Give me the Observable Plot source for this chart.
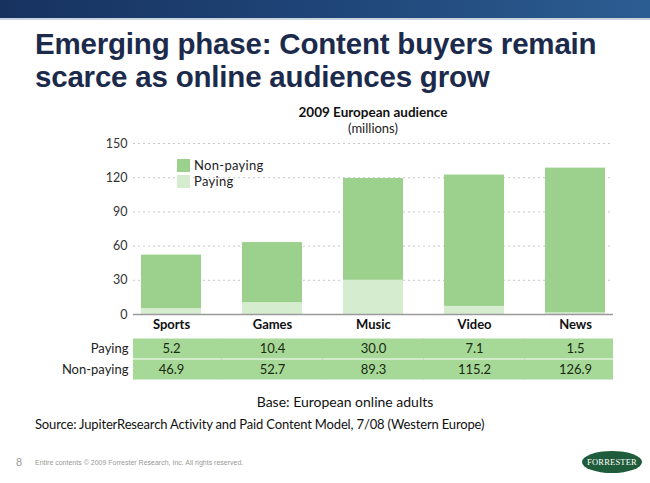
<!DOCTYPE html>
<html><head><meta charset="utf-8">
<script src="https://cdn.jsdelivr.net/npm/d3@7"></script>
<script src="https://cdn.jsdelivr.net/npm/@observablehq/plot@0.6"></script>
<style>
body{margin:0;background:#fff;}
#page{position:relative;width:650px;height:483px;overflow:hidden;background:#fff;font-family:Lato,"Open Sans",sans-serif;}
.abs{position:absolute;white-space:nowrap;}
#banner{left:0;top:0;width:650px;height:18px;background:linear-gradient(90deg,#17325f 0%,#1f4578 50%,#2c5d92 100%);}
#bannerline{left:0;top:18px;width:650px;height:2px;background:#c9d3e0;}
#title{left:35px;top:27px;font-family:"Liberation Sans",Arial,sans-serif;font-weight:bold;font-size:29.5px;line-height:33px;color:#1c2a4c;letter-spacing:-0.2px;}
#ctitle{left:133px;width:480px;top:104px;text-align:center;font-weight:bold;font-size:13.5px;color:#111;}
#cunit{left:133px;width:480px;top:120px;text-align:center;font-size:13px;color:#222;}
.sw{position:absolute;width:13px;height:13px;}
.lt{position:absolute;font-size:13px;line-height:15px;color:#222;letter-spacing:0.3px;}
#base{left:133px;width:424px;top:393px;text-align:center;font-size:14px;color:#111;}
#source{left:35px;top:416px;font-size:13px;letter-spacing:-0.15px;color:#111;}
#pnum{left:16px;top:456px;font-size:11px;color:#999;font-family:"Liberation Sans",Arial,sans-serif;}
#foot{left:35px;top:459px;font-size:7px;color:#999;font-family:"Liberation Sans",Arial,sans-serif;}
#logo{left:582px;top:451px;width:60px;height:22px;border-radius:50%;background:#1f5c3b;color:#fff;font-family:"Liberation Serif",serif;font-size:8.5px;line-height:22px;text-align:center;letter-spacing:0.2px;}
</style></head>
<body>
<div id="page">
  <div id="banner" class="abs"></div>
  <div id="bannerline" class="abs"></div>
  <div id="title" class="abs">Emerging phase: Content buyers remain<br>scarce as online audiences grow</div>
  <div id="ctitle" class="abs">2009 European audience</div>
  <div id="cunit" class="abs">(millions)</div>
  <div id="chart" class="abs" style="left:0;top:100px;"></div>
  <div id="legend" class="abs" style="left:0;top:0;"></div>
  <div id="table" class="abs" style="left:0;top:338px;"></div>
  <div id="base" class="abs">Base: European online adults</div>
  <div id="source" class="abs">Source: JupiterResearch Activity and Paid Content Model, 7/08 (Western Europe)</div>
  <div id="pnum" class="abs">8</div>
  <div id="foot" class="abs">Entire contents © 2009 Forrester Research, Inc. All rights reserved.</div>
  <div id="logo" class="abs">FORRESTER</div>
</div>
<script>
const categories = ["Sports", "Games", "Music", "Video", "News"];
const paying = [5.2, 10.4, 30.0, 7.1, 1.5];
const nonPaying = [46.9, 52.7, 89.3, 115.2, 126.9];
const seriesNames = ["Paying", "Non-paying"];
const yTicks = [0, 30, 60, 90, 120, 150];

const colors = {"Paying": "#d5ecce", "Non-paying": "#9bd08d"};

const rows = [];
categories.forEach((c, i) => {
  rows.push({category: c, series: "Paying", value: paying[i]});
  rows.push({category: c, series: "Non-paying", value: nonPaying[i]});
});

const xScale = {domain: categories, paddingInner: 0.41, paddingOuter: 0.064, axis: null};

const chart = Plot.plot({
  width: 650, height: 236,
  marginLeft: 133, marginRight: 37, marginTop: 43, marginBottom: 22,
  style: {fontFamily: "Lato, 'Open Sans', sans-serif", background: "transparent"},
  x: {...xScale},
  y: {domain: [0, 150], ticks: yTicks, label: null},
  color: {domain: seriesNames, range: seriesNames.map(s => colors[s])},
  marks: [
    Plot.ruleY(yTicks.filter(t => t > 0), {stroke: "#c8c8c8", strokeDasharray: "2,3", strokeWidth: 1}),
    Plot.barY(rows, {x: "category", y: "value", fill: "series", order: seriesNames}),
    Plot.ruleY([0], {stroke: "#9a9a9a", strokeWidth: 1.5}),
    Plot.axisY({ticks: yTicks, tickSize: 0, tickPadding: 6, fontSize: 12.5, fill: "#333", label: null}),
    Plot.axisX({tickSize: 0, tickPadding: 5, fontSize: 13, fontWeight: "bold", fill: "#111", label: null})
  ]
});
document.getElementById("chart").appendChild(chart);

// legend
const legend = document.getElementById("legend");
["Non-paying", "Paying"].forEach((s, i) => {
  const sw = document.createElement("div");
  sw.className = "sw";
  sw.style.left = "177px"; sw.style.top = (159 + i * 16) + "px";
  sw.style.background = colors[s];
  legend.appendChild(sw);
  const t = document.createElement("div");
  t.className = "lt";
  t.style.left = "194px"; t.style.top = (158 + i * 16) + "px";
  t.textContent = s;
  legend.appendChild(t);
});

// data table
const tableRows = [];
categories.forEach((c, i) => {
  tableRows.push({category: c, row: "Paying", value: paying[i]});
  tableRows.push({category: c, row: "Non-paying", value: nonPaying[i]});
});
const table = Plot.plot({
  width: 650, height: 42,
  marginLeft: 133, marginRight: 37, marginTop: 0, marginBottom: 0,
  style: {fontFamily: "Lato, 'Open Sans', sans-serif", background: "transparent"},
  x: {...xScale},
  y: {domain: seriesNames, padding: 0, label: null},
  marks: [
    Plot.cell(tableRows, {x: "category", y: "row", fill: "#a6d898", insetLeft: -21, insetRight: -21, insetTop: 0.5, insetBottom: 0.5, clip: true}),
    Plot.text(tableRows, {x: "category", y: "row", text: d => d.value.toFixed(1), fontSize: 13, fill: "#1a2a10"}),
    Plot.axisY({tickSize: 0, tickPadding: 5, fontSize: 13, fill: "#222", label: null})
  ]
});
document.getElementById("table").appendChild(table);
</script>
</body></html>
